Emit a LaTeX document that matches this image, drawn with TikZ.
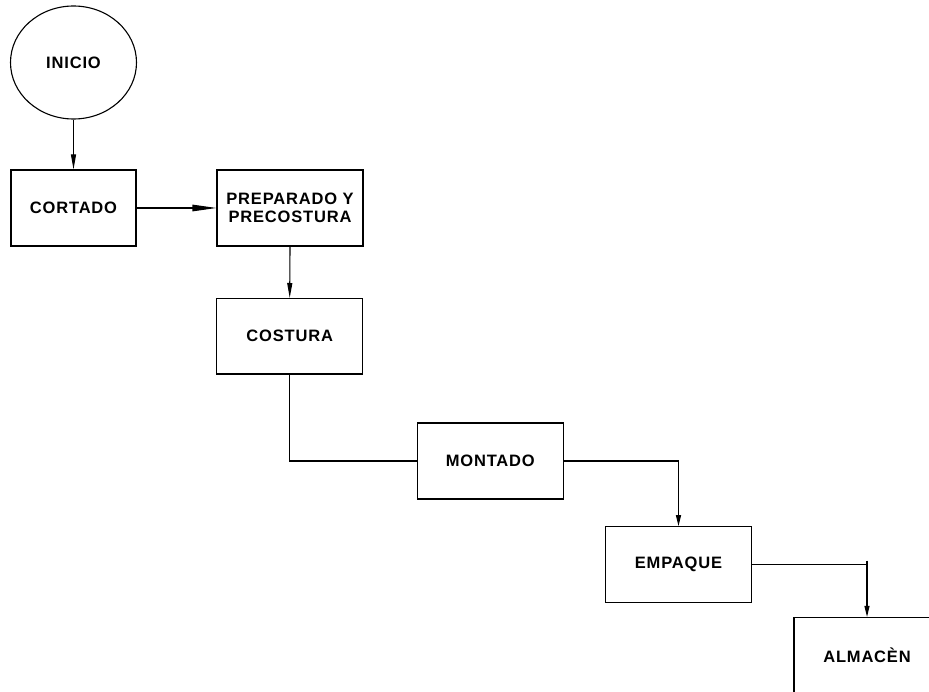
\documentclass[tikz,border=0pt]{standalone}
\usepackage{fontspec}
\setmainfont{Liberation Sans}[LetterSpace=5]
\usetikzlibrary{arrows.meta,shapes.geometric}
\begin{document}
\begin{tikzpicture}[x=1pt,y=-1pt,
  every node/.style={font=\bfseries\fontsize{16.5}{18.5}\selectfont},
  stepbox/.style={draw,line width=1.1pt,rectangle,minimum width=146pt,minimum height=76pt,inner sep=0pt,align=center},
  startnode/.style={draw,line width=1.1pt,ellipse,minimum width=126pt,minimum height=113pt,inner sep=0pt},
  conn/.style={line width=1.1pt},
  arrv/.style={conn,-{Triangle[length=15pt,width=5pt]}},
  arrh/.style={conn,-{Triangle[length=24pt,width=6.5pt]}}]
\useasboundingbox (0,0) rectangle (929,692);
\clip (0,0) rectangle (929,692);
\node[startnode] (ini) at (73.5,62.5) {INICIO};
\node[stepbox,minimum width=125pt] (cort) at (73.5,208) {CORTADO};
\node[stepbox] (prep) at (290,208) {PREPARADO Y\\PRECOSTURA};
\node[stepbox,minimum height=75.5pt] (cost) at (289.7,336.3) {COSTURA};
\node[stepbox] (mont) at (490.3,461) {MONTADO};
\node[stepbox,minimum height=75.6pt] (emp) at (678.5,564.5) {EMPAQUE};
\node[stepbox] (alm) at (867,655.5) {ALMACÈN};
\coordinate (tick) at (867,560.5);
\draw[arrv] (ini.south) -- (cort.north);
\draw[arrh] (cort.east) -- (prep.west);
\draw[arrv] (prep.south) -- (cost.north);
\draw[conn] (cost.south) |- (mont.west);
\draw[arrv,-{Triangle[length=11pt,width=5pt]}] (mont.east) -| (emp.north);
\draw[conn] (emp.east) -- (emp.east -| alm.north);
\draw[arrv,-{Triangle[length=11pt,width=5pt]}] (tick) -- (alm.north);
\end{tikzpicture}
\end{document}
